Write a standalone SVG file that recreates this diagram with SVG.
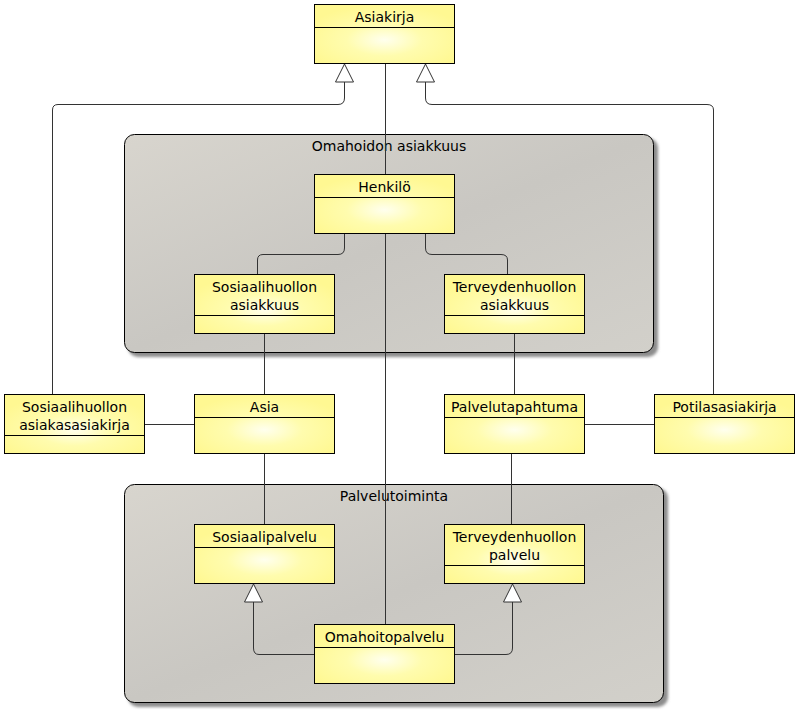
<svg xmlns="http://www.w3.org/2000/svg" width="798" height="719" viewBox="0 0 798 719">
<defs>
<radialGradient id="yel" cx="0.5" cy="0.6" r="0.6">
<stop offset="0" stop-color="#FFFFEE"/>
<stop offset="0.45" stop-color="#FFFCAE"/>
<stop offset="1" stop-color="#FFF892"/>
</radialGradient>
<linearGradient id="gry" x1="0" y1="0" x2="1" y2="1">
<stop offset="0" stop-color="#D8D5CE"/>
<stop offset="0.5" stop-color="#C9C7C2"/>
<stop offset="1" stop-color="#D2D0CA"/>
</linearGradient>
<filter id="sh" x="-5%" y="-5%" width="110%" height="110%">
<feGaussianBlur stdDeviation="1.5"/>
</filter>
</defs>
<style>
.box{fill:url(#yel);stroke:#000;stroke-width:1}
.sep{stroke:#000;stroke-width:1}
.pkg{fill:url(#gry);stroke:#000;stroke-width:1}
.pkgsh{fill:#8c8c8c;filter:url(#sh)}
.t{font-family:"DejaVu Sans",Verdana,sans-serif;font-size:14px;fill:#000;text-anchor:middle}
.c{fill:none;stroke:#333;stroke-width:1}
.arr{fill:#fff;stroke:#333;stroke-width:1}
</style>
<rect width="798" height="719" fill="#fff"/>

<g id="pkg-omahoidon">
<rect class="pkgsh" x="128" y="138" width="530" height="219" rx="10"/>
<rect class="pkg" x="124.5" y="134.5" width="529" height="218" rx="10"/>
<text class="t" x="389" y="151">Omahoidon asiakkuus</text>
</g>
<g id="pkg-palvelutoiminta">
<rect class="pkgsh" x="128" y="488" width="540" height="219" rx="10"/>
<rect class="pkg" x="124.5" y="484.5" width="539" height="218" rx="10"/>
<text class="t" x="394" y="501">Palvelutoiminta</text>
</g>

<g id="connectors">
<path class="c" d="M385.5,64 V624"/>
<path class="c" d="M344.5,82 V98 Q344.5,104.5 338,104.5 H58 Q52.5,104.5 52.5,110 V394"/>
<path class="c" d="M425.5,82 V98 Q425.5,104.5 432,104.5 H707 Q713.5,104.5 713.5,110 V394"/>
<polygon class="arr" points="344.5,64 335.5,82 353.5,82"/>
<polygon class="arr" points="425.5,64 416.5,82 434.5,82"/>
<path class="c" d="M344.5,234 V248 Q344.5,254.5 338,254.5 H263 Q257.5,254.5 257.5,260 V274"/>
<path class="c" d="M425.5,234 V248 Q425.5,254.5 432,254.5 H501 Q507.5,254.5 507.5,260 V274"/>
<path class="c" d="M264.5,334 V394"/>
<path class="c" d="M514.5,334 V394"/>
<path class="c" d="M144,424.5 H194"/>
<path class="c" d="M584,424.5 H654"/>
<path class="c" d="M264.5,454 V524"/>
<path class="c" d="M511.5,454 V524"/>
<path class="c" d="M314,654.5 H259 Q253.5,654.5 253.5,648 V602"/>
<path class="c" d="M454,654.5 H506 Q512.5,654.5 512.5,648 V602"/>
<polygon class="arr" points="253.5,584 244.5,602 262.5,602"/>
<polygon class="arr" points="512.5,584 503.5,602 521.5,602"/>
</g>

<g id="asiakirja">
<rect class="box" x="314.5" y="4.5" width="140" height="59"/>
<line class="sep" x1="314.5" y1="27.5" x2="454.5" y2="27.5"/>
<text class="t" x="384.5" y="22">Asiakirja</text>
</g>
<g id="henkilo">
<rect class="box" x="314.5" y="174.5" width="140" height="59"/>
<line class="sep" x1="314.5" y1="197.5" x2="454.5" y2="197.5"/>
<text class="t" x="384.5" y="192">Henkilö</text>
</g>
<g id="sosiaalihuollon-asiakkuus">
<rect class="box" x="194.5" y="274.5" width="140" height="59"/>
<line class="sep" x1="194.5" y1="315.5" x2="334.5" y2="315.5"/>
<text class="t" x="264.5" y="292">Sosiaalihuollon</text>
<text class="t" x="264.5" y="310">asiakkuus</text>
</g>
<g id="terveydenhuollon-asiakkuus">
<rect class="box" x="444.5" y="274.5" width="140" height="59"/>
<line class="sep" x1="444.5" y1="315.5" x2="584.5" y2="315.5"/>
<text class="t" x="514.5" y="292">Terveydenhuollon</text>
<text class="t" x="514.5" y="310">asiakkuus</text>
</g>
<g id="sosiaalihuollon-asiakasasiakirja">
<rect class="box" x="4.5" y="394.5" width="140" height="59"/>
<line class="sep" x1="4.5" y1="435.5" x2="144.5" y2="435.5"/>
<text class="t" x="74.5" y="412">Sosiaalihuollon</text>
<text class="t" x="74.5" y="430">asiakasasiakirja</text>
</g>
<g id="asia">
<rect class="box" x="194.5" y="394.5" width="140" height="59"/>
<line class="sep" x1="194.5" y1="417.5" x2="334.5" y2="417.5"/>
<text class="t" x="264.5" y="412">Asia</text>
</g>
<g id="palvelutapahtuma">
<rect class="box" x="444.5" y="394.5" width="140" height="59"/>
<line class="sep" x1="444.5" y1="417.5" x2="584.5" y2="417.5"/>
<text class="t" x="514.5" y="412">Palvelutapahtuma</text>
</g>
<g id="potilasasiakirja">
<rect class="box" x="654.5" y="394.5" width="140" height="59"/>
<line class="sep" x1="654.5" y1="417.5" x2="794.5" y2="417.5"/>
<text class="t" x="724.5" y="412">Potilasasiakirja</text>
</g>
<g id="sosiaalipalvelu">
<rect class="box" x="194.5" y="524.5" width="140" height="59"/>
<line class="sep" x1="194.5" y1="547.5" x2="334.5" y2="547.5"/>
<text class="t" x="264.5" y="542">Sosiaalipalvelu</text>
</g>
<g id="terveydenhuollon-palvelu">
<rect class="box" x="444.5" y="524.5" width="140" height="59"/>
<line class="sep" x1="444.5" y1="565.5" x2="584.5" y2="565.5"/>
<text class="t" x="514.5" y="542">Terveydenhuollon</text>
<text class="t" x="514.5" y="560">palvelu</text>
</g>
<g id="omahoitopalvelu">
<rect class="box" x="314.5" y="624.5" width="140" height="59"/>
<line class="sep" x1="314.5" y1="647.5" x2="454.5" y2="647.5"/>
<text class="t" x="384.5" y="642">Omahoitopalvelu</text>
</g>
</svg>
